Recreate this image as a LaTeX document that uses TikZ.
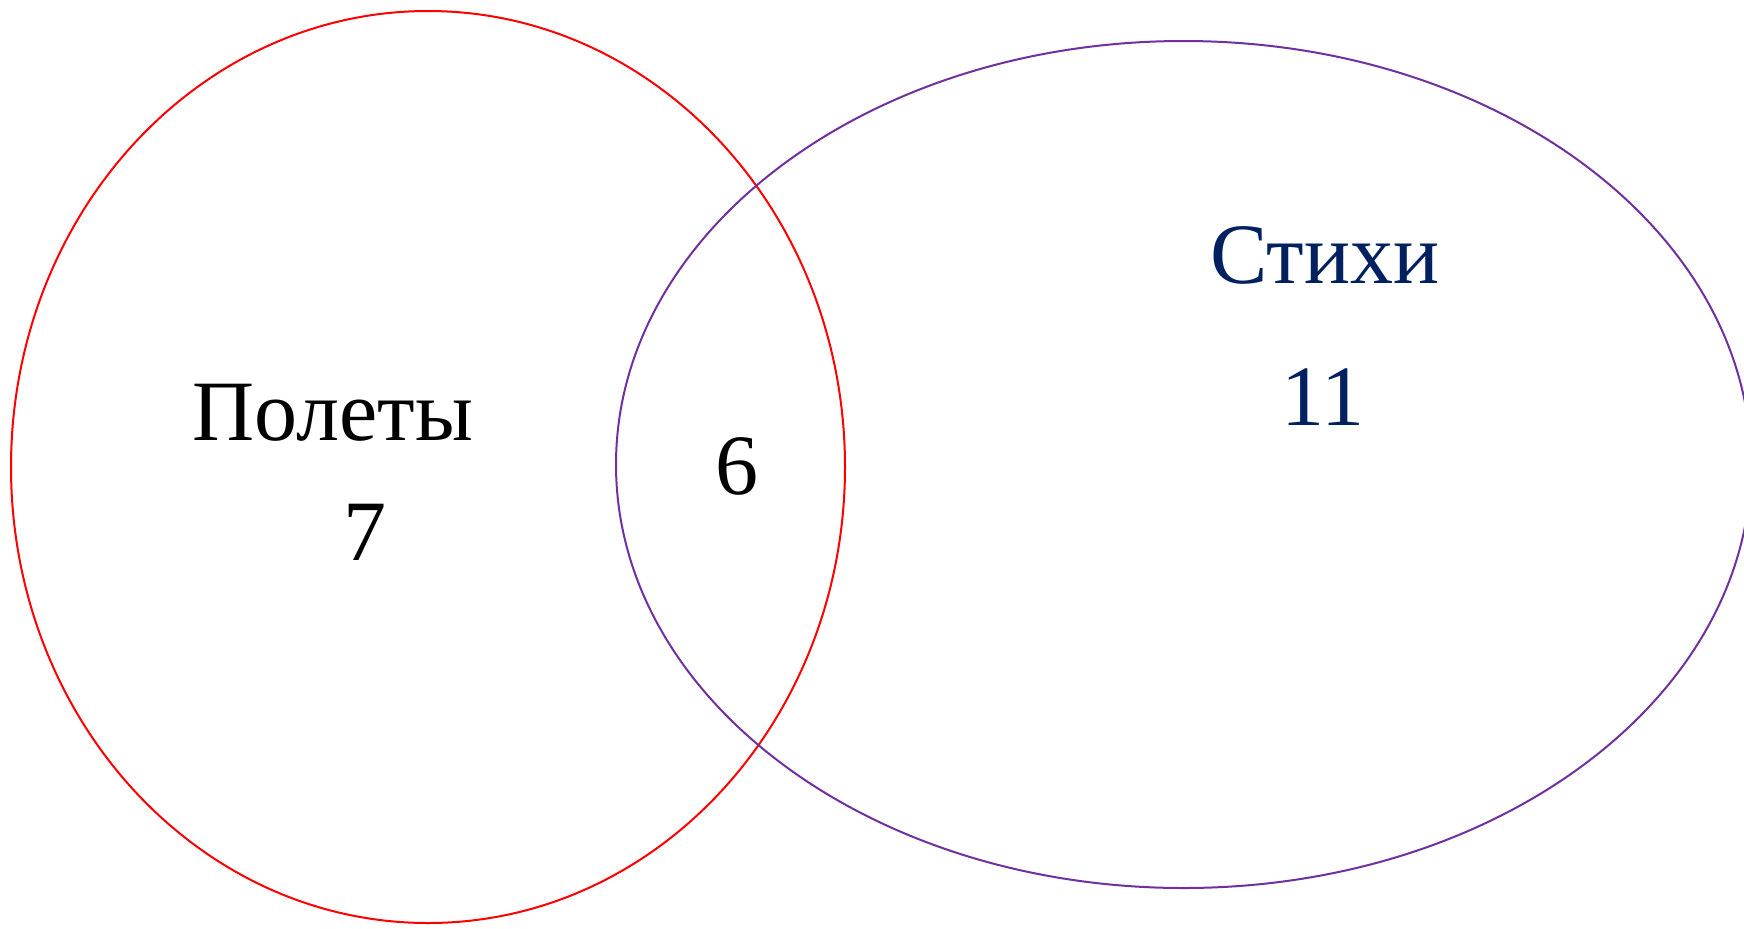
\documentclass[tikz,border=0pt]{standalone}
\usepackage{fontspec}
\setmainfont{Liberation Serif}
\usetikzlibrary{shapes.geometric}
\definecolor{setred}{HTML}{FF0000}
\definecolor{setpurple}{HTML}{7030A0}
\definecolor{setnavy}{HTML}{002060}
\tikzset{
  setshape/.style={ellipse, draw, line width=1pt, inner sep=0pt, outer sep=0pt},
  lbl/.style={anchor=base, inner sep=0pt, font=\fontsize{43}{50}\selectfont}
}
\begin{document}
\begin{tikzpicture}[x=0.5pt,y=-0.5pt]
\clip (0,0) rectangle (1744,928);
\fill[white] (0,0) rectangle (1744,928);
\node[setshape, draw=setred, minimum width=417pt, minimum height=456pt] (flights) at (428,467) {};
\node[setshape, draw=setpurple, minimum width=567.5pt, minimum height=423.5pt] (poems) at (1183.5,464.5) {};
\node[lbl] (flightsname) at (333,440) {Полеты};
\node[lbl] (flightsnum) at (365,560) {7};
\node[lbl] (bothnum) at (737,494) {6};
\node[lbl, text=setnavy] (poemsname) at (1325,283) {Стихи};
\node[lbl, text=setnavy] (poemsnum) at (1323,425) {11};
\end{tikzpicture}
\end{document}
